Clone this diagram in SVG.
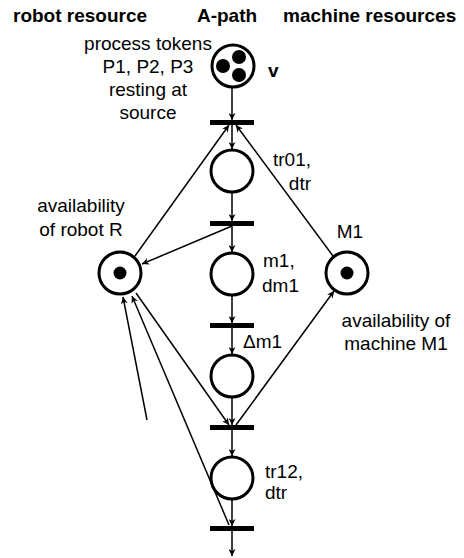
<svg xmlns="http://www.w3.org/2000/svg" width="464" height="558" viewBox="0 0 464 558">
<defs>
<marker id="ah" viewBox="0 0 10 10" refX="10" refY="5" markerWidth="8" markerHeight="7" markerUnits="userSpaceOnUse" orient="auto">
<path d="M0,0 L10,5 L0,10 L3,5 Z" fill="#000"/>
</marker>
<style>
text{font-family:"Liberation Sans",Arial,sans-serif;font-size:19px;fill:#000}
.t{font-weight:bold}
.p{fill:#fff;stroke:#000;stroke-width:3}
.tok{fill:#000}
.bar{fill:#000}
.a{stroke:#000;stroke-width:1.5;fill:none;marker-end:url(#ah)}
.l{stroke:#000;stroke-width:1.5;fill:none}
</style>
</defs>
<rect width="464" height="558" fill="#fff"/>
<g id="titles">
<text class="t" x="13" y="22">robot resource</text>
<text class="t" x="227" y="22" text-anchor="middle">A-path</text>
<text class="t" x="283" y="22">machine resources</text>
</g>
<g id="connectors">
<line class="a" x1="232" y1="87" x2="232" y2="120"/>
<line class="a" x1="232" y1="125" x2="232" y2="149"/>
<line class="a" x1="135" y1="256" x2="229" y2="125"/>
<line class="a" x1="333" y1="256" x2="236" y2="125"/>
<line class="a" x1="232" y1="192" x2="232" y2="221"/>
<line class="a" x1="232" y1="226" x2="142" y2="264"/>
<line class="a" x1="232" y1="226" x2="232" y2="252"/>
<line class="a" x1="232" y1="295" x2="232" y2="323"/>
<line class="a" x1="232" y1="328" x2="232" y2="354"/>
<line class="a" x1="232" y1="397" x2="232" y2="425"/>
<line class="a" x1="136" y1="293" x2="229" y2="425"/>
<line class="a" x1="236" y1="425" x2="334" y2="291"/>
<line class="a" x1="232" y1="430" x2="232" y2="456"/>
<line class="a" x1="232" y1="499" x2="232" y2="526"/>
<line class="a" x1="229" y1="525" x2="132" y2="296"/>
<line class="a" x1="147" y1="420" x2="123" y2="297"/>
<line class="a" x1="232" y1="531" x2="232" y2="556"/>
</g>
<g id="source">
<circle class="p" cx="233" cy="66" r="21"/>
<circle class="tok" cx="223" cy="66" r="7"/>
<circle class="tok" cx="239" cy="57" r="7"/>
<circle class="tok" cx="239" cy="75" r="7"/>
<text x="268" y="77" class="t">v</text>
<text x="148" y="50" text-anchor="middle">process tokens</text>
<text x="148" y="73" text-anchor="middle">P1, P2, P3</text>
<text x="148" y="96" text-anchor="middle">resting at</text>
<text x="148" y="119" text-anchor="middle">source</text>
</g>
<g id="t1"><rect class="bar" x="210" y="120" width="44" height="5"/></g>
<g id="p1">
<circle class="p" cx="232" cy="171" r="21"/>
<text x="311" y="166" text-anchor="end">tr01,</text>
<text x="311" y="190" text-anchor="end">dtr</text>
</g>
<g id="t2"><rect class="bar" x="210" y="221" width="44" height="5"/></g>
<g id="p2">
<circle class="p" cx="232" cy="274" r="21"/>
<text x="263" y="267">m1,</text>
<text x="262" y="292">dm1</text>
</g>
<g id="t3"><rect class="bar" x="210" y="323" width="44" height="5"/></g>
<g id="p3">
<circle class="p" cx="232" cy="376" r="21"/>
<text x="243" y="348">Δm1</text>
</g>
<g id="t4"><rect class="bar" x="210" y="425" width="44" height="5"/></g>
<g id="p4">
<circle class="p" cx="232" cy="478" r="21"/>
<text x="265" y="478">tr12,</text>
<text x="265" y="499">dtr</text>
</g>
<g id="t5"><rect class="bar" x="210" y="526" width="44" height="5"/></g>
<g id="robot">
<circle class="p" cx="120" cy="273" r="21"/>
<circle class="tok" cx="120" cy="273" r="6.5"/>
<text x="81" y="212" text-anchor="middle">availability</text>
<text x="81" y="236" text-anchor="middle">of robot R</text>
</g>
<g id="machine">
<circle class="p" cx="347" cy="273" r="21"/>
<circle class="tok" cx="347" cy="273" r="6.5"/>
<text x="350" y="238" text-anchor="middle">M1</text>
<text x="396" y="327" text-anchor="middle">availability of</text>
<text x="396" y="350" text-anchor="middle">machine M1</text>
</g>
</svg>
